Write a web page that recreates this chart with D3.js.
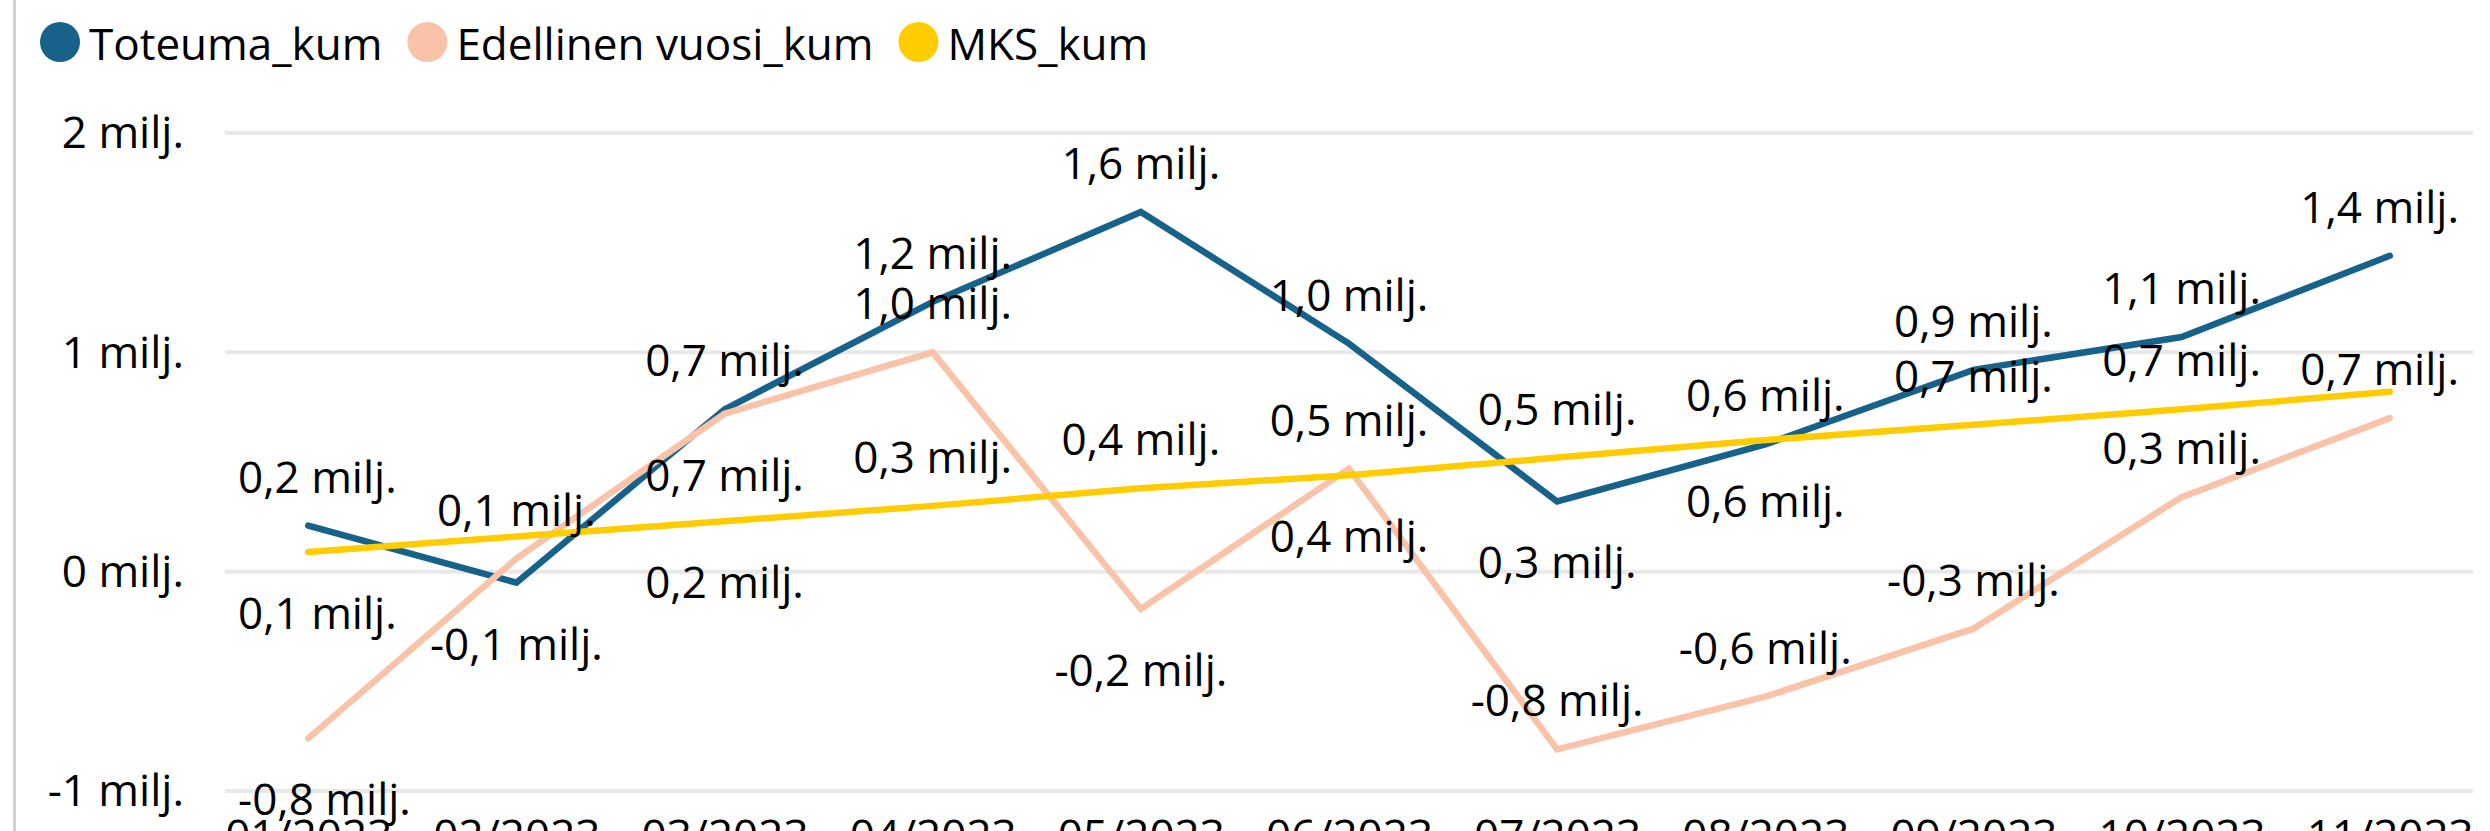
<!DOCTYPE html>
<html>
<head>
<meta charset="utf-8">
<script src="https://cdn.jsdelivr.net/npm/d3@7"></script>
<style>
  html, body { margin: 0; padding: 0; background: #fff; overflow: hidden; }
  svg { display: block; }
  text { font-family: "Open Sans", "Noto Sans", sans-serif; fill: #000; }
</style>
</head>
<body>
<svg id="chart" width="2490" height="831"></svg>
<script>
// ---- data ----
const categories = ["01/2023","02/2023","03/2023","04/2023","05/2023","06/2023","07/2023","08/2023","09/2023","10/2023","11/2023"];
const seriesNames = ["Toteuma_kum", "Edellinen vuosi_kum", "MKS_kum"];
// values in millions
const toteuma   = [0.21, -0.05, 0.74, 1.23, 1.64, 1.04, 0.32, 0.58, 0.92, 1.07, 1.44];
const edellinen = [-0.76, 0.06, 0.72, 1.00, -0.17, 0.47, -0.81, -0.57, -0.26, 0.34, 0.70];
const mks       = [0.09, 0.16, 0.23, 0.30, 0.38, 0.44, 0.52, 0.60, 0.67, 0.74, 0.82];
const yTicks = [-1, 0, 1, 2];
const yTickLabels = ["-1 milj.", "0 milj.", "1 milj.", "2 milj."];
// data label placement (a = above, b = below, "" = hidden)
const toteumaLabelSide   = ["a","b","a","a","a","a","b","a","a","a","a"];
const edellinenLabelSide = ["b","a","b","a","b","a","a","a","a","a","a"];
const mksLabelSide       = ["b","","b","a","a","b","a","b","a","a",""];

// ---- styles ----
const colors = ["#17628A", "#F8C3A8", "#FFCC00"];
const FONT = 44;

const svg = d3.select("#chart");
const W = 2490, H = 831;
const plot = { left: 225, right: 2473, top: 133, bottom: 791 };

const locale = d3.formatLocale({ decimal: ",", thousands: " ", grouping: [3], currency: ["", "€"], minus: "-" });
const fmt = v => locale.format(".1f")(v) + " milj.";

const x = d3.scalePoint().domain(categories).range([plot.left, plot.right]).padding(0.4);
const y = d3.scaleLinear().domain([-1, 2]).range([plot.bottom, plot.top]);

// left border
svg.append("line").attr("x1", 14.5).attr("x2", 14.5).attr("y1", 0).attr("y2", H)
  .attr("stroke", "#d0d0d0").attr("stroke-width", 3);

// gridlines
svg.append("g").selectAll("line").data(yTicks).join("line")
  .attr("x1", plot.left).attr("x2", plot.right)
  .attr("y1", d => y(d)).attr("y2", d => y(d))
  .attr("stroke", "#e8e8e8").attr("stroke-width", 4);

// y axis labels
const yAxis = d3.axisLeft(y).tickValues(yTicks).tickSize(0).tickPadding(0)
  .tickFormat((d, i) => yTickLabels[i]);
const gy = svg.append("g").attr("transform", "translate(184,0)").call(yAxis);
gy.select(".domain").remove();
gy.selectAll("text").attr("font-size", FONT).attr("font-family", null).attr("fill", "#000")
  .attr("dy", "0.34em");

// x axis labels
const xAxis = d3.axisBottom(x).tickSize(0).tickPadding(0);
const gx = svg.append("g").call(xAxis);
gx.select(".domain").remove();
gx.selectAll("text").attr("font-size", FONT).attr("font-family", null).attr("fill", "#000")
  .attr("y", 851).attr("dy", 0);

// lines
const seriesData = [toteuma, edellinen, mks];
const sides = [toteumaLabelSide, edellinenLabelSide, mksLabelSide];
const line = d3.line().x((d, i) => x(categories[i])).y(d => y(d));
seriesData.forEach((vals, s) => {
  svg.append("path").datum(vals)
    .attr("d", line)
    .attr("fill", "none")
    .attr("stroke", colors[s])
    .attr("stroke-width", 6.5)
    .attr("stroke-linecap", "round")
    .attr("stroke-linejoin", "miter");
});

// data labels
const labelMin = 238, labelMax = 2459;
const gl = svg.append("g");
seriesData.forEach((vals, s) => {
  vals.forEach((v, i) => {
    const side = sides[s][i];
    if (!side) return;
    const px = x(categories[i]), py = y(v);
    const t = gl.append("text")
      .attr("font-size", FONT)
      .attr("text-anchor", "middle")
      .attr("y", side === "a" ? py - 33 : py + 77)
      .text(fmt(v));
    const w = t.node().getComputedTextLength();
    const cx = Math.max(labelMin + w / 2, Math.min(labelMax - w / 2, px));
    t.attr("x", cx);
  });
});

// legend
const lg = svg.append("g");
let lx = 40;
seriesNames.forEach((name, s) => {
  lg.append("circle").attr("cx", lx + 20).attr("cy", 42).attr("r", 20).attr("fill", colors[s]);
  const t = lg.append("text").attr("x", lx + 49).attr("y", 60).attr("font-size", FONT).text(name);
  const w = t.node().getComputedTextLength();
  lx = lx + 49 + w + 25;
});
</script>
</body>
</html>
